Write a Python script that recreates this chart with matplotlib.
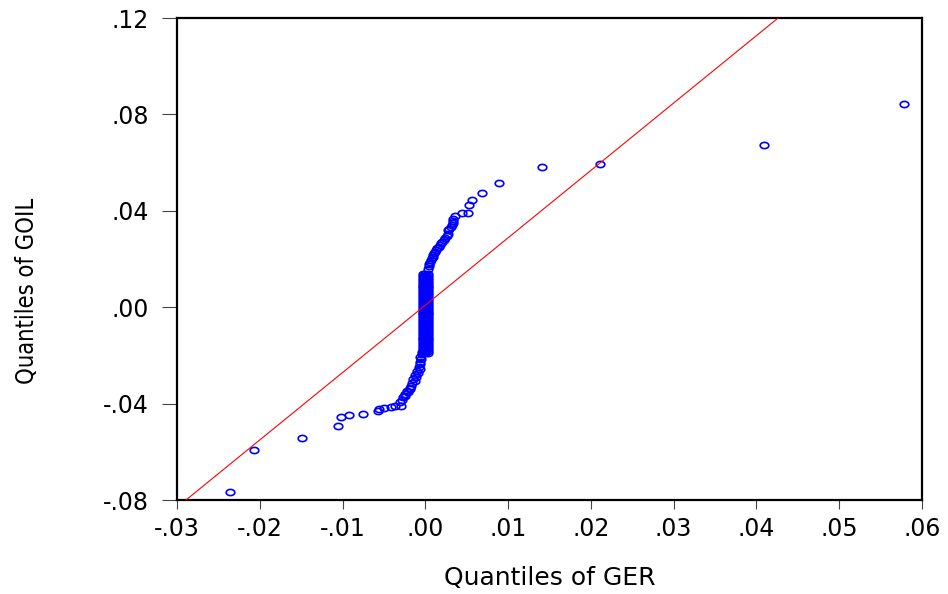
import matplotlib
matplotlib.use("Agg")
import matplotlib.pyplot as plt
from matplotlib.path import Path
from matplotlib import font_manager
import numpy as np

# ---------------- data ----------------
# lower tail of the Q-Q cloud: (quantiles of GER, quantiles of GOIL)
lower_ger = [-0.0236, -0.0207, -0.0149, -0.0105, -0.0102, -0.0092, -0.0075,
             -0.0057, -0.0056, -0.0050, -0.0042, -0.0037, -0.0029, -0.0031,
             -0.0028, -0.0027, -0.0024, -0.0025, -0.0021, -0.0022, -0.0018,
             -0.0019, -0.0017, -0.0016, -0.0013, -0.0015, -0.0011, -0.0012,
             -0.0009, -0.0010, -0.0007, -0.0008, -0.0007, -0.0006, -0.0005,
             -0.0006, -0.0004, -0.0004]
lower_goil = [-0.0766, -0.0594, -0.0544, -0.0493, -0.0457, -0.0449, -0.0442,
              -0.0431, -0.0424, -0.0420, -0.0415, -0.0410, -0.0409, -0.0392,
              -0.0385, -0.0372, -0.0367, -0.0361, -0.0352, -0.0348, -0.0340,
              -0.0334, -0.0325, -0.0316, -0.0306, -0.0299, -0.0290, -0.0281,
              -0.0272, -0.0263, -0.0255, -0.0247, -0.0236, -0.0226, -0.0215,
              -0.0205, -0.0196, -0.0185]

# dense centre column (GER quantiles ~0)
column_ger = [-0.0003, 0.0000, 0.0003]
column_goil = [-0.0190, -0.0182, -0.0174, -0.0166, -0.0158, -0.0150, -0.0142,
               -0.0134, -0.0126, -0.0118, -0.0110, -0.0102, -0.0094, -0.0086,
               -0.0078, -0.0070, -0.0062, -0.0054, -0.0046, -0.0038, -0.0030,
               -0.0022, -0.0014, -0.0006, 0.0002, 0.0010, 0.0018, 0.0026,
               0.0034, 0.0042, 0.0050, 0.0058, 0.0066, 0.0074, 0.0082, 0.0090,
               0.0098, 0.0106, 0.0114, 0.0122, 0.0130, 0.0138]

# upper tail
upper_ger = [0.00036, 0.00045, 0.0005, 0.00057, 0.0007, 0.00077, 0.0009,
             0.00097, 0.0011, 0.00117, 0.0013, 0.00145, 0.0016, 0.00178,
             0.0019, 0.00205, 0.0022, 0.00238, 0.0026, 0.00278, 0.0027,
             0.0029, 0.0031, 0.0032, 0.00331, 0.0034, 0.00338, 0.00359,
             0.0044, 0.0052, 0.00531, 0.0056, 0.00688, 0.00894, 0.0141,
             0.0211, 0.0409, 0.0578]
upper_goil = [0.0157, 0.0171, 0.0180, 0.0189, 0.0196, 0.0203, 0.0210,
              0.0217, 0.0224, 0.0230, 0.0237, 0.0244, 0.0251, 0.0258,
              0.0265, 0.0272, 0.0279, 0.0286, 0.0295, 0.0304, 0.0320,
              0.0326, 0.0332, 0.0340, 0.0348, 0.0356, 0.0365, 0.0378,
              0.0392, 0.0392, 0.0423, 0.0445, 0.0475, 0.0517, 0.0580,
              0.0595, 0.0674, 0.0843]

# reference line
ref_slope = 2.796
ref_intercept = 0.00084

x_ticks = [-0.03, -0.02, -0.01, 0.00, 0.01, 0.02, 0.03, 0.04, 0.05, 0.06]
x_tick_labels = ["-.03", "-.02", "-.01", ".00", ".01", ".02", ".03", ".04", ".05", ".06"]
y_ticks = [-0.08, -0.04, 0.00, 0.04, 0.08, 0.12]
y_tick_labels = ["-.08", "-.04", ".00", ".04", ".08", ".12"]

x_title = "Quantiles of GER"
y_title = "Quantiles of GOIL"

# ---------------- drawing ----------------
W, H = 948, 594
fig = plt.figure(figsize=(W / 100, H / 100), dpi=100)
left, right, top, bottom = 177, 922, 18, 500
ax = fig.add_axes([left / W, (H - bottom) / H, (right - left) / W, (bottom - top) / H])

# oval open marker like EViews
theta = np.linspace(0, 2 * np.pi, 41)
oval = Path(np.column_stack([np.cos(theta), 0.72 * np.sin(theta)]), closed=True)

col_x = [cx for cy in column_goil for cx in column_ger]
col_y = [cy for cy in column_goil for cx in column_ger]
all_x = lower_ger + col_x + upper_ger
all_y = lower_goil + col_y + upper_goil

ax.plot(all_x, all_y, linestyle="none", marker=oval, markersize=6.2,
        markerfacecolor="none", markeredgecolor="#0000ff", markeredgewidth=1.2,
        zorder=2)

xs = np.array([x_ticks[0], x_ticks[-1]])
ax.plot(xs, ref_slope * xs + ref_intercept, color="#ff0000", linewidth=0.8, zorder=3)

ax.set_xlim(x_ticks[0], x_ticks[-1])
ax.set_ylim(y_ticks[0], y_ticks[-1])
ax.set_xticks(x_ticks)
ax.set_xticklabels(x_tick_labels)
ax.set_yticks(y_ticks)
ax.set_yticklabels(y_tick_labels)

for s in ax.spines.values():
    s.set_linewidth(1.6)
    s.set_color("black")

tick_font = "DejaVu Sans"
ax.tick_params(axis="y", length=10.5, width=0.8, color="#444444", pad=10,
               labelsize=17, direction="out")
ax.tick_params(axis="x", length=6.5, width=0.8, color="#444444", pad=6,
               labelsize=17, direction="out")
for lab in ax.get_xticklabels() + ax.get_yticklabels():
    lab.set_family(tick_font)
    lab.set_color("black")

ax.set_xlabel(x_title, fontsize=18, family="DejaVu Sans", color="black")
ax.xaxis.label.set_va("center")
ax.xaxis.set_label_coords(0.5, -0.162)

# condensed face for the y title if one is installed
names = {f.name for f in font_manager.fontManager.ttflist}
if "Liberation Sans Narrow" in names:
    ax.set_ylabel(y_title, fontsize=18, family="Liberation Sans Narrow", color="black")
else:
    ax.set_ylabel(y_title, fontsize=17, family="DejaVu Sans", stretch="condensed",
                  color="black")
ax.yaxis.label.set_va("center")
ax.yaxis.set_label_coords(-0.201, 0.434)

fig.savefig("out.png", dpi=100, facecolor="white")
